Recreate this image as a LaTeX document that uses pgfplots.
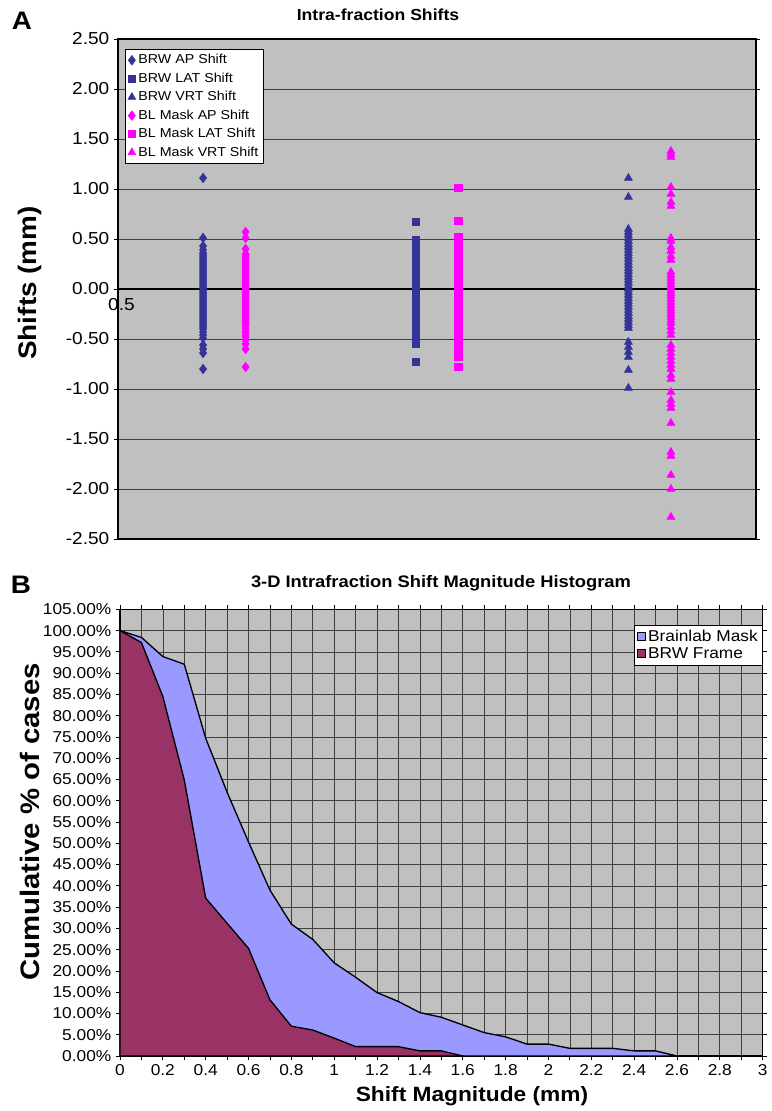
\documentclass[border=0pt]{standalone}
\usepackage{fontspec}
\setmainfont[FakeStretch=1.1]{Liberation Sans}
\usepackage{pgfplots}
\pgfplotsset{compat=1.18}
\definecolor{brw}{RGB}{51,51,153}
\definecolor{blm}{RGB}{255,0,255}
\definecolor{plotbg}{RGB}{192,192,192}
\definecolor{maskfill}{RGB}{153,153,255}
\definecolor{framefill}{RGB}{153,51,102}
\begin{document}
\begin{tikzpicture}
\path (0,0) rectangle (576.75pt,833.25pt);
% ---------------- Panel A ----------------
\begin{axis}[
 at={(88.5pt,429pt)}, anchor=south west,
 scale only axis, width=478.5pt, height=375pt,
 xmin=0.5, xmax=3.5, ymin=-2.5, ymax=2.5,
 xtick=\empty, ytick={-2.5,-2,-1.5,-1,-0.5,0,0.5,1,1.5,2,2.5},
 yticklabel={\pgfmathprintnumber[fixed,fixed zerofill,precision=2]{\tick}},
 /pgf/number format/assume math mode=true,
 tick label style={font=\fontsize{13}{15}\selectfont},
 ymajorgrids, grid style={black!75, line width=0.6pt},
 extra y ticks={0}, extra y tick labels={},
 extra y tick style={grid style={black, line width=0.9pt}},
 axis background/.style={fill=plotbg},
 tick align=outside, major tick length=3pt,
 ytick style={black, line width=0.6pt},
 axis line style={black, line width=0.8pt},
 clip=false,
 legend style={at={(0.011,0.98)}, anchor=north west, draw=black, fill=white,
   font=\fontsize{9.7}{11}\selectfont, row sep=1.3pt, inner sep=2pt},
 legend cell align=left,
]
\addplot[only marks, mark=diamond*, mark size=3.6pt, color=brw] coordinates {
(0.9,1.11)(0.9,0.51)(0.9,0.43)(0.9,0.39)(0.9,0.36)(0.9,0.34)(0.9,0.32)(0.9,0.30)(0.9,0.28)(0.9,0.26)(0.9,0.24)(0.9,0.22)(0.9,0.20)(0.9,0.18)(0.9,0.16)(0.9,0.14)(0.9,0.12)(0.9,0.10)(0.9,0.08)(0.9,0.06)(0.9,0.04)(0.9,0.02)(0.9,0.00)(0.9,-0.02)(0.9,-0.04)(0.9,-0.06)(0.9,-0.08)(0.9,-0.10)(0.9,-0.12)(0.9,-0.14)(0.9,-0.16)(0.9,-0.18)(0.9,-0.20)(0.9,-0.22)(0.9,-0.24)(0.9,-0.26)(0.9,-0.28)(0.9,-0.30)(0.9,-0.32)(0.9,-0.34)(0.9,-0.36)(0.9,-0.38)(0.9,-0.40)(0.9,-0.43)(0.9,-0.46)(0.9,-0.49)(0.9,-0.56)(0.9,-0.60)(0.9,-0.64)(0.9,-0.80)};
\addlegendentry{BRW AP Shift}
\addplot[only marks, mark=square*, mark size=2.8pt, color=brw] coordinates {
(1.9,0.67)(1.9,0.49)(1.9,0.46)(1.9,0.43)(1.9,0.40)(1.9,0.37)(1.9,0.34)(1.9,0.31)(1.9,0.28)(1.9,0.25)(1.9,0.22)(1.9,0.19)(1.9,0.16)(1.9,0.13)(1.9,0.10)(1.9,0.07)(1.9,0.04)(1.9,0.01)(1.9,-0.02)(1.9,-0.05)(1.9,-0.08)(1.9,-0.11)(1.9,-0.14)(1.9,-0.17)(1.9,-0.20)(1.9,-0.23)(1.9,-0.26)(1.9,-0.29)(1.9,-0.32)(1.9,-0.35)(1.9,-0.38)(1.9,-0.41)(1.9,-0.44)(1.9,-0.47)(1.9,-0.50)(1.9,-0.53)(1.9,-0.55)(1.9,-0.73)};
\addlegendentry{BRW LAT Shift}
\addplot[only marks, mark=triangle*, mark size=3.4pt, color=brw] coordinates {
(2.9,1.11)(2.9,0.92)(2.9,0.60)(2.9,0.57)(2.9,0.54)(2.9,0.51)(2.9,0.48)(2.9,0.45)(2.9,0.42)(2.9,0.39)(2.9,0.36)(2.9,0.33)(2.9,0.30)(2.9,0.27)(2.9,0.24)(2.9,0.21)(2.9,0.18)(2.9,0.15)(2.9,0.12)(2.9,0.09)(2.9,0.06)(2.9,0.03)(2.9,0.00)(2.9,-0.03)(2.9,-0.06)(2.9,-0.09)(2.9,-0.12)(2.9,-0.15)(2.9,-0.18)(2.9,-0.21)(2.9,-0.24)(2.9,-0.27)(2.9,-0.30)(2.9,-0.33)(2.9,-0.36)(2.9,-0.39)(2.9,-0.53)(2.9,-0.58)(2.9,-0.63)(2.9,-0.68)(2.9,-0.81)(2.9,-0.99)};
\addlegendentry{BRW VRT Shift}
\addplot[only marks, mark=diamond*, mark size=3.6pt, color=blm] coordinates {
(1.1,0.57)(1.1,0.51)(1.1,0.40)(1.1,0.35)(1.1,0.33)(1.1,0.31)(1.1,0.29)(1.1,0.27)(1.1,0.25)(1.1,0.23)(1.1,0.21)(1.1,0.19)(1.1,0.17)(1.1,0.15)(1.1,0.13)(1.1,0.11)(1.1,0.09)(1.1,0.07)(1.1,0.05)(1.1,0.03)(1.1,0.01)(1.1,-0.01)(1.1,-0.03)(1.1,-0.05)(1.1,-0.07)(1.1,-0.09)(1.1,-0.11)(1.1,-0.13)(1.1,-0.15)(1.1,-0.17)(1.1,-0.19)(1.1,-0.21)(1.1,-0.23)(1.1,-0.25)(1.1,-0.27)(1.1,-0.29)(1.1,-0.31)(1.1,-0.33)(1.1,-0.35)(1.1,-0.37)(1.1,-0.40)(1.1,-0.43)(1.1,-0.46)(1.1,-0.48)(1.1,-0.51)(1.1,-0.55)(1.1,-0.60)(1.1,-0.78)};
\addlegendentry{BL Mask AP Shift}
\addplot[only marks, mark=square*, mark size=2.8pt, color=blm] coordinates {
(2.1,1.01)(2.1,0.68)(2.1,0.52)(2.1,0.47)(2.1,0.39)(2.1,0.36)(2.1,0.33)(2.1,0.30)(2.1,0.27)(2.1,0.24)(2.1,0.21)(2.1,0.18)(2.1,0.15)(2.1,0.12)(2.1,0.09)(2.1,0.06)(2.1,0.03)(2.1,0.00)(2.1,-0.03)(2.1,-0.06)(2.1,-0.09)(2.1,-0.12)(2.1,-0.15)(2.1,-0.18)(2.1,-0.21)(2.1,-0.24)(2.1,-0.27)(2.1,-0.30)(2.1,-0.33)(2.1,-0.36)(2.1,-0.39)(2.1,-0.42)(2.1,-0.45)(2.1,-0.48)(2.1,-0.51)(2.1,-0.54)(2.1,-0.57)(2.1,-0.60)(2.1,-0.63)(2.1,-0.66)(2.1,-0.68)(2.1,-0.78)};
\addlegendentry{BL Mask LAT Shift}
\addplot[only marks, mark=triangle*, mark size=3.4pt, color=blm] coordinates {
(3.1,1.38)(3.1,1.35)(3.1,1.32)(3.1,1.02)(3.1,0.95)(3.1,0.87)(3.1,0.83)(3.1,0.51)(3.1,0.48)(3.1,0.42)(3.1,0.38)(3.1,0.33)(3.1,0.29)(3.1,0.17)(3.1,0.14)(3.1,0.11)(3.1,0.08)(3.1,0.05)(3.1,0.02)(3.1,-0.01)(3.1,-0.04)(3.1,-0.07)(3.1,-0.10)(3.1,-0.13)(3.1,-0.16)(3.1,-0.19)(3.1,-0.22)(3.1,-0.25)(3.1,-0.28)(3.1,-0.31)(3.1,-0.34)(3.1,-0.38)(3.1,-0.42)(3.1,-0.46)(3.1,-0.56)(3.1,-0.60)(3.1,-0.64)(3.1,-0.68)(3.1,-0.72)(3.1,-0.76)(3.1,-0.80)(3.1,-0.86)(3.1,-0.90)(3.1,-1.03)(3.1,-1.11)(3.1,-1.15)(3.1,-1.19)(3.1,-1.34)(3.1,-1.63)(3.1,-1.67)(3.1,-1.86)(3.1,-2.00)(3.1,-2.28)};
\addlegendentry{BL Mask VRT Shift}
\node[anchor=north, font=\fontsize{13}{15}\selectfont, inner sep=0pt, xshift=2.6pt] at (axis cs:0.5,-0.09) {0.5};
\end{axis}
% ---------------- Panel B ----------------
\begin{axis}[
 at={(90pt,41.25pt)}, anchor=south west,
 scale only axis, width=482pt, height=335pt,
 xmin=0, xmax=3, ymin=0, ymax=105,
 xtick={0,0.2,0.4,0.6,0.8,1,1.2,1.4,1.6,1.8,2,2.2,2.4,2.6,2.8,3},
 xticklabels={0,0.2,0.4,0.6,0.8,1,1.2,1.4,1.6,1.8,2,2.2,2.4,2.6,2.8,3},
 minor xtick={0.1,0.3,0.5,0.7,0.9,1.1,1.3,1.5,1.7,1.9,2.1,2.3,2.5,2.7,2.9},
 ytick={0,5,10,15,20,25,30,35,40,45,50,55,60,65,70,75,80,85,90,95,100,105},
 yticklabel={\pgfmathprintnumber[fixed,fixed zerofill,precision=2]{\tick}\%},
 /pgf/number format/assume math mode=true,
 tick label style={font=\fontsize{11.8}{14}\selectfont},
 grid=both,
 major grid style={black!75, line width=0.5pt},
 minor grid style={black!75, line width=0.5pt},
 axis background/.style={fill=plotbg},
 tick align=outside, major tick length=3pt, minor tick length=3pt,
 tick style={black, line width=0.6pt},
 axis line style={black, line width=0.8pt},
 legend style={at={(1,0.965)}, anchor=north east, draw=black, fill=white,
   font=\fontsize{11.8}{13}\selectfont, row sep=-1pt, inner sep=1.5pt},
 legend cell align=left,
 legend image code/.code={\draw[#1, line width=0.6pt] (0pt,-3pt) rectangle (6pt,3pt);},
]
\addplot[fill=maskfill, draw=black, line width=1pt] coordinates {
(0,100)(0.1,98.4)(0.2,93.9)(0.3,92.1)(0.4,74.7)(0.5,62.0)(0.6,50.3)(0.7,39.0)(0.8,31.0)(0.9,27.4)(1.0,21.9)(1.1,18.5)(1.2,14.9)(1.3,12.8)(1.4,10.2)(1.5,9.1)(1.6,7.3)(1.7,5.5)(1.8,4.5)(1.9,2.8)(2.0,2.8)(2.1,1.8)(2.2,1.8)(2.3,1.8)(2.4,1.2)(2.5,1.2)(2.6,0)} \closedcycle;
\addlegendentry{Brainlab Mask}
\addplot[fill=framefill, draw=black, line width=1pt] coordinates {
(0,100)(0.1,97.2)(0.2,84.5)(0.3,64.9)(0.4,37.1)(0.5,31.2)(0.6,25.3)(0.7,13.2)(0.8,7.0)(0.9,6.1)(1.0,4.2)(1.1,2.2)(1.2,2.2)(1.3,2.2)(1.4,1.2)(1.5,1.2)(1.6,0)} \closedcycle;
\addlegendentry{BRW Frame}
\end{axis}
% ---------------- Labels ----------------
\node[font=\bfseries\fontsize{19}{22}\selectfont] at (16.5pt,818pt) {A};
\node[font=\bfseries\fontsize{12}{14}\selectfont] at (283.5pt,822pt) {Intra-fraction Shifts};
\node[font=\bfseries\fontsize{19}{22}\selectfont, rotate=90] at (22.5pt,621pt) {Shifts (mm)};
\node[font=\bfseries\fontsize{19}{22}\selectfont] at (15.75pt,394.5pt) {B};
\node[font=\bfseries\fontsize{12.5}{15}\selectfont] at (330.75pt,396pt) {3-D Intrafraction Shift Magnitude Histogram};
\node[font=\bfseries\fontsize{20}{23}\selectfont, rotate=90] at (22.5pt,216.75pt) {Cumulative \% of cases};
\node[font=\bfseries\fontsize{15.5}{18}\selectfont] at (354pt,11.25pt) {Shift Magnitude (mm)};
\end{tikzpicture}
\end{document}
